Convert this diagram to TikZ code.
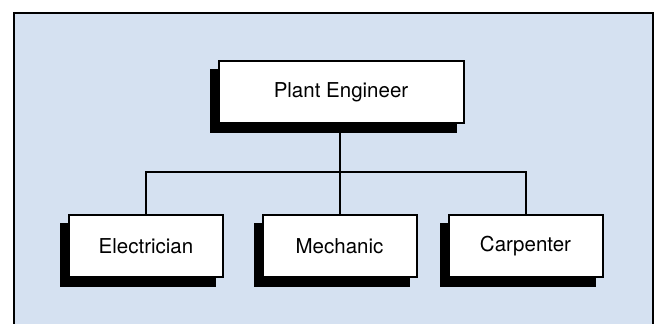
\documentclass[tikz,border=0pt]{standalone}
\usepackage{fontspec}
\setmainfont{TeX Gyre Heros}
\usetikzlibrary{shadows}
\definecolor{panelblue}{RGB}{213,225,241}
\begin{document}
\begin{tikzpicture}[x=1pt,y=-1pt,
  orgbox/.style={draw=black, fill=white, line width=2pt, rectangle,
    minimum width=154pt, minimum height=62pt, inner sep=0pt,
    font=\fontsize{20.5}{24}\selectfont,
    general shadow={shadow xshift=-8pt, shadow yshift=-8.5pt,
      fill=black, draw=black, line width=2pt, opacity=1}},
  link/.style={draw=black, line width=2pt}]
  % page area and light blue panel (its lower edge runs off the page)
  \useasboundingbox (0,0) rectangle (654,324);
  \clip (0,0) rectangle (654,324);
  \draw[fill=panelblue, line width=2pt] (13.5,12.5) rectangle (653,340);
  % connectors
  \coordinate (bus) at (340,172);
  \node[orgbox, minimum width=245pt] (plant) at (341,92) {Plant Engineer};
  \node[orgbox] (elec) at (146,246) {Electrician};
  \node[orgbox] (mech) at (339.5,246) {Mechanic};
  \node[orgbox] (carp) at (525.5,246) {Carpenter};
  \draw[link] (plant.south -| bus) -- (bus);
  \draw[link] (elec.north) |- (bus) -| (carp.north);
  \draw[link] (bus) -- (mech.north -| bus);
\end{tikzpicture}
\end{document}
